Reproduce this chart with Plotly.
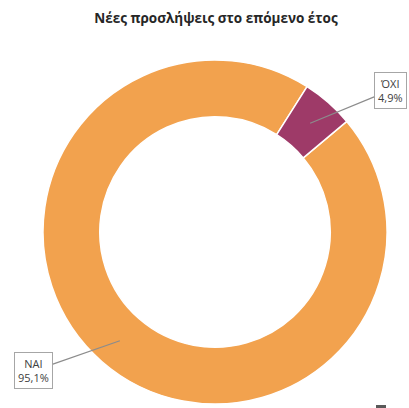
import math
import plotly.graph_objects as go

labels = ["ΝΑΙ", "ΌΧΙ"]
values = [95.1, 4.9]
label_texts = ["ΝΑΙ<br>95,1%", "ΌΧΙ<br>4,9%"]
colors = ["#F2A24E", "#9E3A68"]

W, H = 409, 408
cx, cy, R = 215, 232, 172
rotation = 50
hole = 0.67

fig = go.Figure(go.Pie(
    labels=labels, values=values, hole=hole, sort=False,
    direction="clockwise", rotation=rotation,
    marker=dict(colors=colors, line=dict(color="white", width=1.5)),
    textinfo="none", hoverinfo="label+percent", showlegend=False,
    domain=dict(x=[(cx - R) / W, (cx + R) / W], y=[(H - cy - R) / H, (H - cy + R) / H]),
))

# label callouts
offsets = [(-86, 30), (80, -33)]
total = sum(values)
start = rotation
for i, v in enumerate(values):
    span = v / total * 360
    mid = math.radians(start + span / 2)
    start += span
    r = R * 0.84
    tx = cx + r * math.sin(mid)
    ty = cy - r * math.cos(mid)
    fig.add_annotation(
        x=tx / W, y=1 - ty / H, xref="paper", yref="paper",
        text=label_texts[i], showarrow=True, arrowhead=0, arrowwidth=1.2,
        arrowcolor="#8c8c8c", ax=offsets[i][0], ay=offsets[i][1],
        bordercolor="#a6a6a6", borderwidth=1, borderpad=3, bgcolor="white",
        font=dict(family="Open Sans, sans-serif", size=11, color="#404040"),
        align="center",
    )

fig.add_shape(type="rect", xref="paper", yref="paper",
              x0=376 / W, x1=386 / W, y0=1 - 408 / H, y1=1 - 405 / H,
              fillcolor="#595959", line=dict(width=0))

fig.update_layout(
    width=W, height=H,
    margin=dict(l=0, r=0, t=0, b=0),
    paper_bgcolor="white", plot_bgcolor="white",
    title=dict(text="<b>Νέες προσλήψεις στο επόμενο έτος</b>", x=216 / W, xanchor="center",
               y=1 - 18 / H, yanchor="middle",
               font=dict(family="Open Sans, sans-serif", size=13.5, color="#262626")),
)

fig.write_html("out.html", config={"displayModeBar": False})
with open("out.html", encoding="utf-8") as f:
    html = f.read()
html = html.replace("<body>", '<body style="margin:0;padding:0;overflow:hidden">', 1)
with open("out.html", "w", encoding="utf-8") as f:
    f.write(html)
